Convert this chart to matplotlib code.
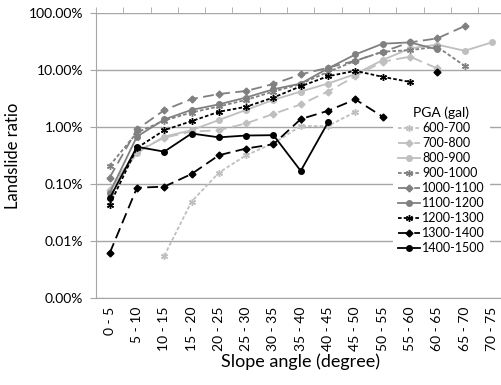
import numpy as np
import matplotlib
matplotlib.use('Agg')
import matplotlib.pyplot as plt
from matplotlib.ticker import FuncFormatter, FixedLocator

plt.rcParams['font.family'] = ['Lato', 'DejaVu Sans']

nan = np.nan

# SLOPE CLASSES
slopes = ['0 - 5', '5 - 10', '10 - 15', '15 - 20', '20 - 25', '25 - 30', '30 - 35',
          '35 - 40', '40 - 45', '45 - 50', '50 - 55', '55 - 60', '60 - 65',
          '65 - 70', '70 - 75']

# LANDSLIDE RATIO (%) PER PGA CLASS
pga_600 = [nan, nan, 0.0055, 0.049, 0.158, 0.32, 0.52, 1.04, 1.04, 1.85, nan, nan, nan, nan, nan]
pga_700 = [0.08, 0.38, 0.65, 0.83, 0.88, 1.16, 1.7, 2.5, 4.2, 7.8, 14, 17.2, 10.7, nan, nan]
pga_800 = [0.075, 0.35, 0.68, 0.88, 1.33, 2.0, 3.0, 4.2, 5.8, 8.5, 15, 24, 28, 21.8, 30.6]
pga_900 = [0.21, 0.8, 1.3, 1.8, 2.3, 3.0, 4.2, 5.7, 9.3, 14.5, 21, 22.4, 25.6, 11.9, nan]
pga_1000 = [0.13, 0.91, 1.98, 3.1, 3.8, 4.3, 5.7, 8.4, 11, 14.6, 20.9, 30.6, 36, 59, nan]
pga_1100 = [0.07, 0.68, 1.36, 2.0, 2.5, 3.3, 4.6, 5.8, 10.7, 18.8, 29, 30.6, 23, nan, nan]
pga_1200 = [0.043, 0.43, 0.88, 1.27, 1.85, 2.27, 3.3, 5.2, 7.8, 9.7, 7.6, 6.2, nan, nan, nan]
pga_1300 = [0.0061, 0.086, 0.090, 0.15, 0.32, 0.42, 0.50, 1.38, 1.93, 3.06, 1.52, nan, 9.1, nan, nan]
pga_1400 = [0.056, 0.45, 0.37, 0.77, 0.66, 0.71, 0.72, 0.17, 1.21, nan, nan, nan, nan, nan, nan]

labels = ['600-700', '700-800', '800-900', '900-1000', '1000-1100',
          '1100-1200', '1200-1300', '1300-1400', '1400-1500']
series = [pga_600, pga_700, pga_800, pga_900, pga_1000, pga_1100, pga_1200, pga_1300, pga_1400]

#LINE STYLES: LIGHT / MID / BLACK  x  SHORT DASH STAR / LONG DASH DIAMOND / SOLID CIRCLE
colors = ['#BFBFBF'] * 3 + ['#808080'] * 3 + ['#000000'] * 3
dashes = [(2, 1.2), (6, 3), None] * 3
markers = [(6, 2, 0), 'D', 'o'] * 3
msizes = [5, 3.5, 4] * 3

fig = plt.figure(figsize=(5.01, 3.85), dpi=100)
ax = fig.add_axes([0.1916, 0.226, 0.8174, 0.740])

x = np.arange(len(slopes))
for vals, lab, c, d, m, ms in zip(series, labels, colors, dashes, markers, msizes):
    y = np.array(vals) / 100.0
    line, = ax.plot(x, y, color=c, lw=1.3, marker=m, markersize=ms,
                    markeredgecolor=c, markerfacecolor=c, label=lab)
    if d is not None:
        line.set_dashes(d)

ax.set_yscale('log')
ax.set_ylim(1e-5, 1)
ax.set_xlim(-0.5, len(slopes) - 0.5)
ax.yaxis.set_major_locator(FixedLocator([1e-5, 1e-4, 1e-3, 1e-2, 1e-1, 1]))
ax.yaxis.set_minor_locator(FixedLocator([]))
ax.yaxis.set_major_formatter(FuncFormatter(lambda v, p: '%.2f%%' % (v * 100)))
ax.grid(axis='y', color='#A6A6A6', lw=1)
ax.set_axisbelow(True)

ax.set_xticks(x)
ax.set_xticklabels(slopes, rotation=90, fontsize=10)
ax.set_xticks(np.arange(-0.5, len(slopes), 1), minor=True)
ax.tick_params(axis='x', which='major', length=0, pad=6)
ax.tick_params(axis='x', which='minor', bottom=False, top=True, direction='out',
               length=4, color='#A6A6A6')
ax.tick_params(axis='y', which='major', length=4, color='#A6A6A6', labelsize=10, pad=5)

for s in ['top', 'right']:
    ax.spines[s].set_visible(False)
for s in ['left', 'bottom']:
    ax.spines[s].set_color('#A6A6A6')

ax.set_ylabel('Landslide ratio', fontsize=12, labelpad=6)
ax.set_xlabel('Slope angle (degree)', fontsize=13, labelpad=2)

anchor = (0.78, 0.75)
leg = ax.legend(title='PGA (gal)', loc='upper left', bbox_to_anchor=anchor,
                bbox_transform=fig.transFigure, fontsize=9, title_fontsize=10,
                frameon=True, fancybox=False, edgecolor='none', facecolor='white',
                framealpha=1, handlelength=1.76, handletextpad=0.2, labelspacing=0.24,
                borderpad=0.4)

#NUDGE THE LEGEND SO ITS FIRST LABEL STARTS AT x=422 px AND TITLE SITS AT y=113 px
fig.canvas.draw()
r = fig.canvas.get_renderer()
t0 = leg.get_texts()[0].get_window_extent(r)
tt = leg.get_title().get_window_extent(r)
dx = 422 - t0.x0
dy = (385 - 113) - (tt.y0 + tt.y1) / 2
leg.set_bbox_to_anchor((anchor[0] + dx / 501, anchor[1] + dy / 385), transform=fig.transFigure)

fig.savefig('out.png', dpi=100)
